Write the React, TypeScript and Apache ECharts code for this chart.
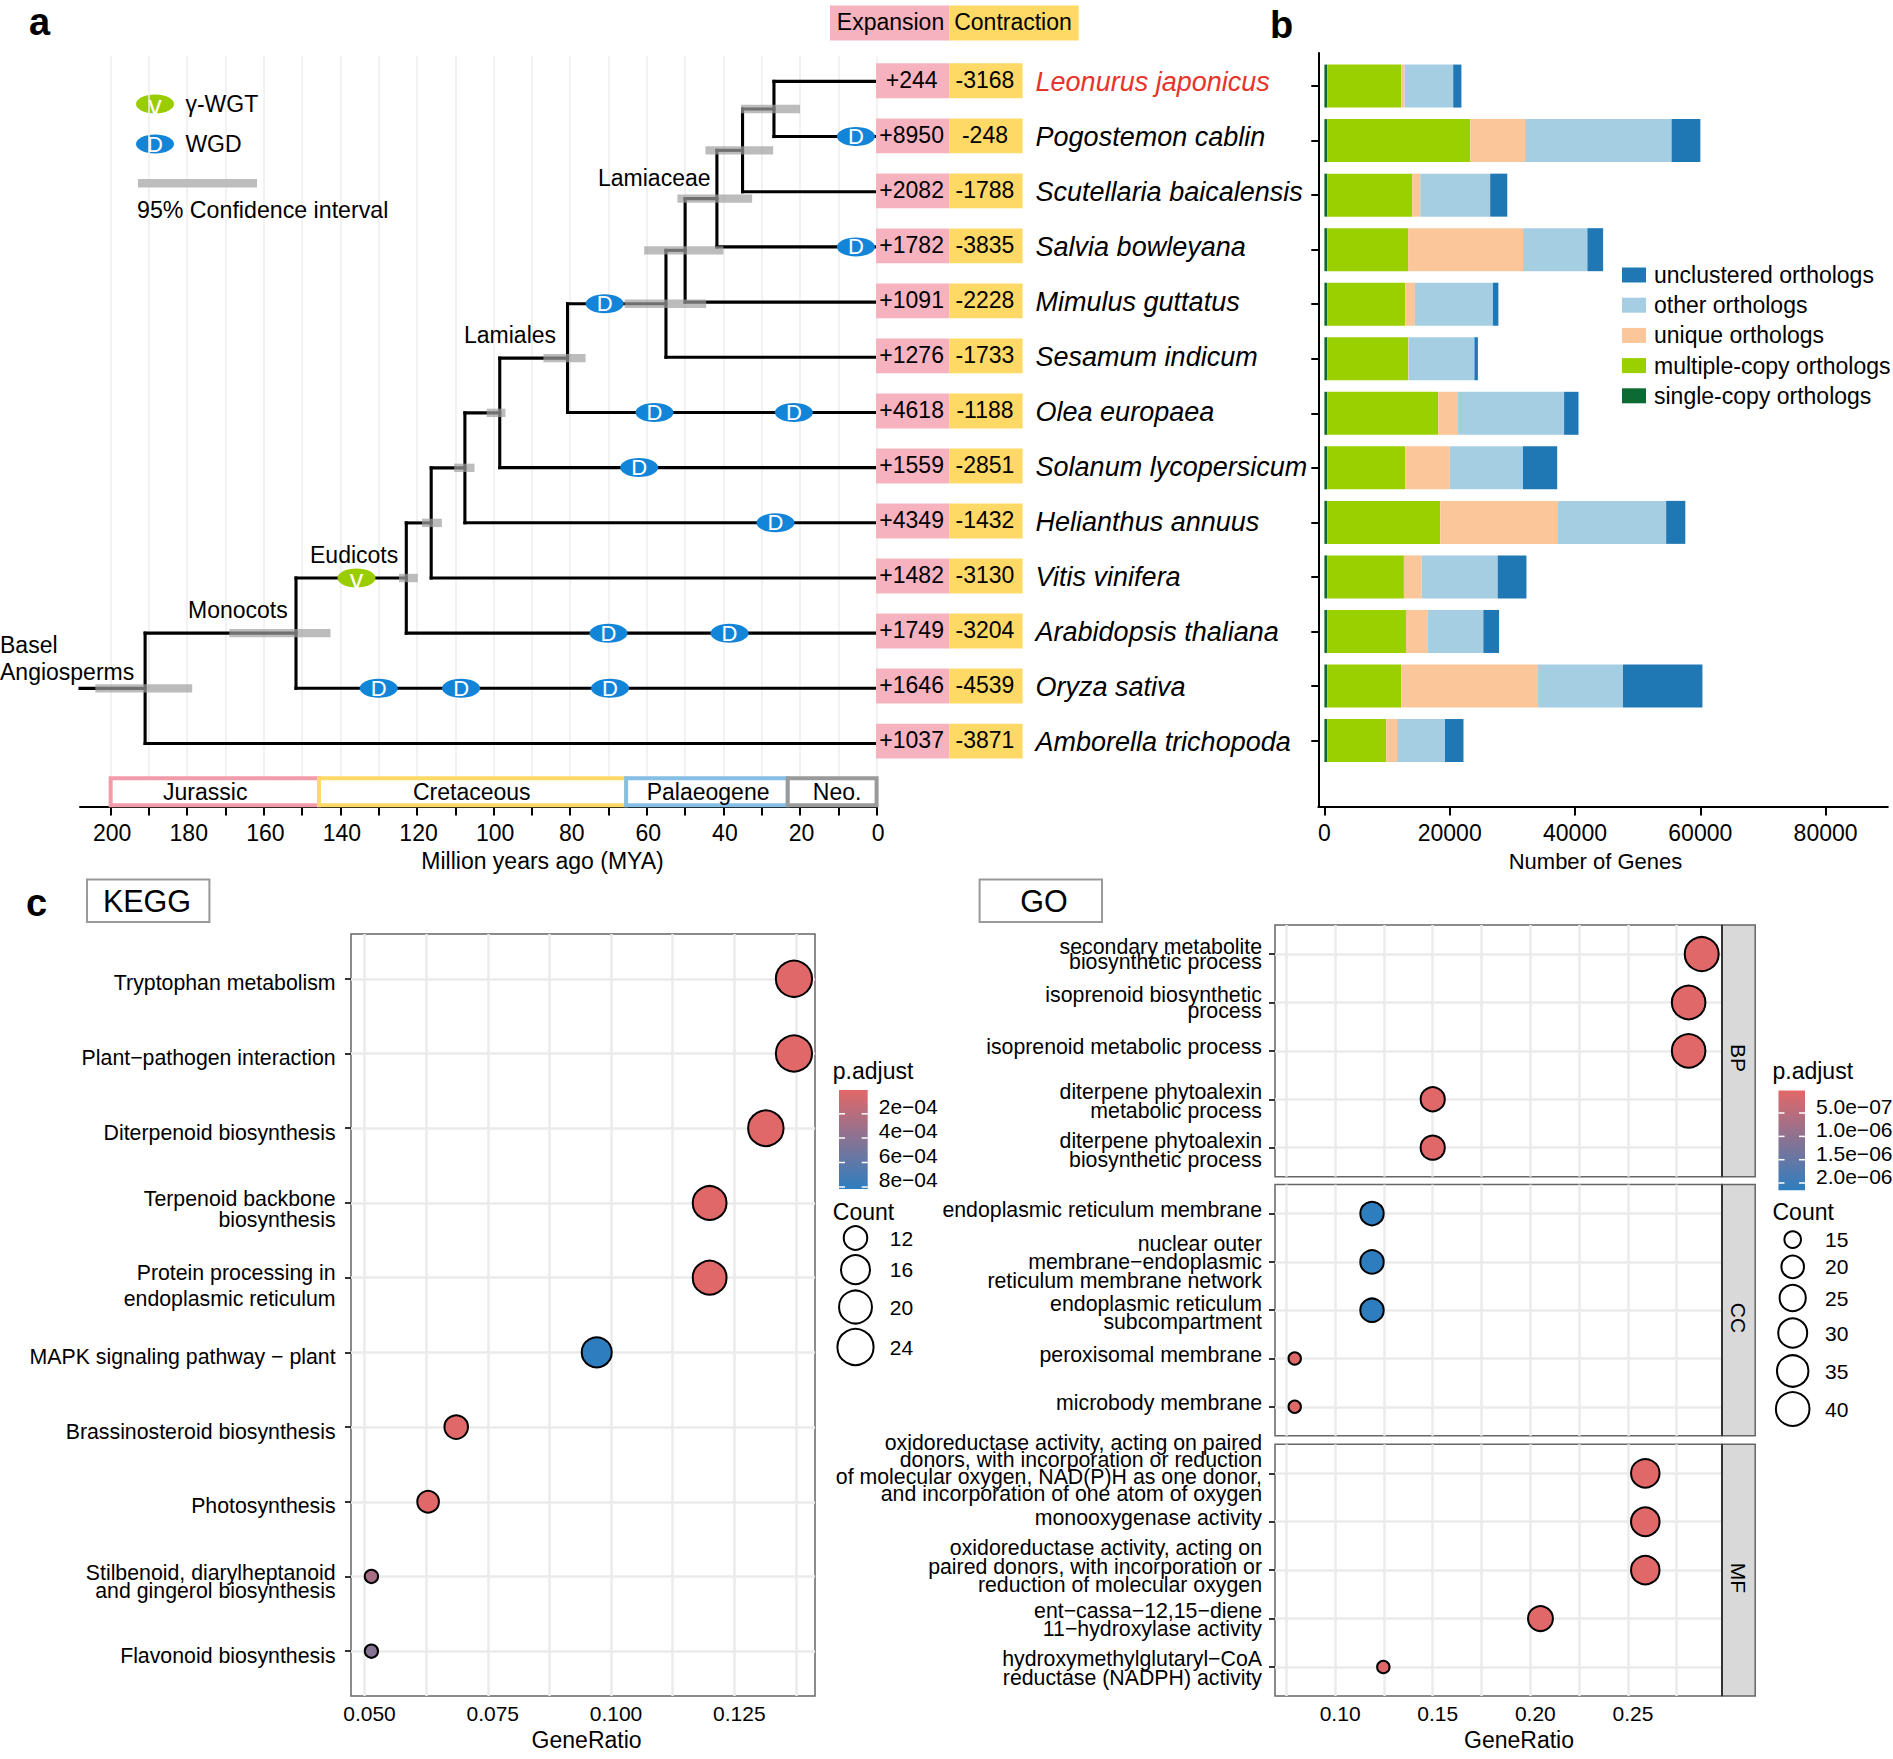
import React, { useEffect, useRef } from "react";
import * as echarts from "echarts";

const FONT = "'Liberation Sans', Arial, Helvetica, sans-serif";

// ---------- panel a: tree ----------
const species = ["Leonurus japonicus", "Pogostemon cablin", "Scutellaria baicalensis", "Salvia bowleyana", "Mimulus guttatus", "Sesamum indicum", "Olea europaea", "Solanum lycopersicum", "Helianthus annuus", "Vitis vinifera", "Arabidopsis thaliana", "Oryza sativa", "Amborella trichopoda"];
const expansion = [244, 8950, 2082, 1782, 1091, 1276, 4618, 1559, 4349, 1482, 1749, 1646, 1037];
const contraction = [3168, 248, 1788, 3835, 2228, 1733, 1188, 2851, 1432, 3130, 3204, 4539, 3871];
const nodeAges = [26.8, 35, 41.7, 50, 55, 80.7, 98.4, 107.5, 116.3, 122.8, 151.6, 191];
const rootAge = 208;
const ciFrom = [35.4, 44.7, 52, 60.7, 65.8, 87, 101.8, 110.3, 118.7, 124.7, 169, 204];
const ciTo = [20, 27, 32.5, 40, 44.5, 76, 96.9, 105, 113.5, 119.8, 142.6, 178.7];
const wgdAges = [5.4, 5.4, 71, 58, 21.6, 62, 26.4, 70, 38.4, 130, 108.5, 69.6];
const wgdRows = [1, 3, 4.03, 6, 6, 7, 8, 10, 10, 11, 11, 11];
const gammaAges = [135.8];
const gammaRows = [9];
const geoNames = ["Jurassic", "Cretaceous", "Palaeogene", "Neo."];
const geoFrom = [200, 145.6, 65.4, 23.2];
const geoTo = [145.6, 65.4, 23.2, 0];
const geoLabelAge = [175.3, 105.7, 44, 10.3];
const geoColors = ["#F29BAA", "#FFD966", "#85BFE5", "#9A9A9A"];
const ageTicks = [200, 190, 180, 170, 160, 150, 140, 130, 120, 110, 100, 90, 80, 70, 60, 50, 40, 30, 20, 10, 0];
const ageLabels = [200, 180, 160, 140, 120, 100, 80, 60, 40, 20, 0];

// ---------- panel b: stacked bars ----------
const singleCopy = [450, 450, 450, 450, 450, 450, 450, 450, 450, 450, 450, 450, 450];
const multiCopy = [11800, 22840, 13550, 12900, 12460, 12900, 17700, 12460, 18030, 12240, 12570, 11800, 9400];
const uniqueO = [550, 8740, 1310, 18360, 1530, 110, 3170, 7100, 18800, 2840, 3500, 21860, 1750];
const otherO = [7760, 23390, 11150, 10270, 12460, 10490, 16940, 11690, 17270, 12130, 8850, 13550, 7650];
const unclustered = [1310, 4590, 2730, 2510, 870, 550, 2300, 5460, 3060, 4590, 2510, 12680, 2950];
const geneTicks = [0, 20000, 40000, 60000, 80000];

// ---------- panel c: KEGG ----------
const keggLabels = ["Tryptophan metabolism", "Plant\u2212pathogen interaction", "Diterpenoid biosynthesis", "Terpenoid backbone\nbiosynthesis", "Protein processing in\nendoplasmic reticulum", "MAPK signaling pathway \u2212 plant", "Brassinosteroid biosynthesis", "Photosynthesis", "Stilbenoid, diarylheptanoid\nand gingerol biosynthesis", "Flavonoid biosynthesis"];
const keggRatio = [0.1371, 0.1371, 0.1314, 0.12, 0.12, 0.0971, 0.0686, 0.0629, 0.0514, 0.0514];
const keggCount = [24, 24, 23, 21, 21, 17, 12, 11, 9, 9];
const keggP = [0.000005, 0.000005, 0.00001, 0.00001, 0.00001, 0.00081, 0.00001, 0.00001, 0.00026, 0.00041];
const keggLineH = [21, 21, 21, 21.5, 25.5, 21, 21, 21, 18, 21];
const keggDy = [4.5, 4.5, 4.5, 6.5, 8.5, 4.5, 4.5, 4.5, 5.5, 4.5];
const keggMajor = [0.05, 0.075, 0.1, 0.125];
const keggAllX = [0.05, 0.0625, 0.075, 0.0875, 0.1, 0.1125, 0.125, 0.1375];
const keggLegendCounts = [12, 16, 20, 24];
const keggPLabels = ["2e\u221204", "4e\u221204", "6e\u221204", "8e\u221204"];

// ---------- panel c: GO ----------
const bpLabels = ["secondary metabolite\nbiosynthetic process", "isoprenoid biosynthetic\nprocess", "isoprenoid metabolic process", "diterpene phytoalexin\nmetabolic process", "diterpene phytoalexin\nbiosynthetic process"];
const bpRatio = [0.2878, 0.2811, 0.2811, 0.15, 0.15];
const bpCount = [41, 40, 40, 22, 22];
const bpP = [1e-8, 1e-8, 1e-8, 1e-8, 1e-8];
const bpLineH = [15.3, 15.3, 21, 18.7, 18.7];
const bpDy = [0.5, 0.5, -3.5, 2.5, 2.5];
const ccLabels = ["endoplasmic reticulum membrane", "nuclear outer\nmembrane\u2212endoplasmic\nreticulum membrane network", "endoplasmic reticulum\nsubcompartment", "peroxisomal membrane", "microbody membrane"];
const ccRatio = [0.1189, 0.1189, 0.1189, 0.0793, 0.0793];
const ccCount = [21, 21, 21, 14, 14];
const ccP = [2.2e-6, 2.2e-6, 2.2e-6, 1e-8, 1e-8];
const ccLineH = [21, 18.5, 18, 21, 21];
const ccDy = [-3.5, 0.5, 2.5, -3.5, -3.5];
const mfLabels = ["oxidoreductase activity, acting on paired\ndonors, with incorporation or reduction\nof molecular oxygen, NAD(P)H as one donor,\nand incorporation of one atom of oxygen", "monooxygenase activity", "oxidoreductase activity, acting on\npaired donors, with incorporation or\nreduction of molecular oxygen", "ent\u2212cassa\u221212,15\u2212diene\n11\u2212hydroxylase activity", "hydroxymethylglutaryl\u2212CoA\nreductase (NADPH) activity"];
const mfRatio = [0.2589, 0.2589, 0.2589, 0.2052, 0.1247];
const mfCount = [29, 29, 29, 23, 14];
const mfP = [1e-8, 1e-8, 1e-8, 1e-8, 1e-8];
const mfLineH = [16.8, 21, 18.7, 18.7, 18.7];
const mfDy = [-5, -3.5, -3.5, 1.5, 1.5];
const goMajor = [0.1, 0.15, 0.2, 0.25];
const goAllX = [0.075, 0.1, 0.125, 0.15, 0.175, 0.2, 0.225, 0.25, 0.275];
const goLegendCounts = [15, 20, 25, 30, 35, 40];
const goPLabels = ["5.0e\u221207", "1.0e\u221206", "1.5e\u221206", "2.0e\u221206"];
const facetNames = ["BP", "CC", "MF"];

const RED = "#E26868";
const BLUE = "#2E7EBF";
const WGD_BLUE = "#1285D8";
const GAMMA_GREEN = "#9ACD00";
const PINK = "#F6B3BF";
const GOLD = "#FFD966";
const GRID_GREY = "#EBEBEB";
const BORDER_GREY = "#666666";
const DOT_FONT = 21.3;

const keggSize = (c: number) => 4.59 * (3 + 5 * Math.sqrt((c - 9) / 15)) - 0.5;
const goSize = (c: number) => 4.31 * (3 + 5 * Math.sqrt((c - 14) / 27)) - 0.5;

function txt(text: string, x: number, y: number, fontSize: number, extra: any = {}) {
  const { rotation, ...st } = extra;
  return {
    type: "text", x, y, rotation: rotation || 0, z: 20, silent: true,
    style: { text, fill: "#000", fontSize, fontFamily: FONT, align: "left", verticalAlign: "middle", ...st },
  };
}
function box(x: number, y: number, w: number, h: number, fill: string, stroke?: string, lineWidth = 0, z = 10) {
  return { type: "rect", z, silent: true, shape: { x, y, width: w, height: h }, style: { fill, stroke: stroke || undefined, lineWidth } };
}
function seg(x1: number, y1: number, x2: number, y2: number, stroke: string, lineWidth: number, z = 15) {
  return { type: "line", z, silent: true, shape: { x1, y1, x2, y2 }, style: { stroke, lineWidth } };
}
function custom(grid: number, data: any[], renderItem: any) {
  return { type: "custom", coordinateSystem: "cartesian2d", xAxisIndex: grid, yAxisIndex: grid, data, renderItem, silent: true, clip: false };
}
function markerChildren(glyph: string, fill: string) {
  const isGamma = glyph !== "D";
  return [
    { type: "ellipse", shape: { cx: 0, cy: 0, rx: 19, ry: 9.5 }, style: { fill } },
    { type: "text", x: 0, y: isGamma ? 2 : 0, style: { text: glyph, fill: "#fff", fontSize: isGamma ? 27 : 22, fontFamily: FONT, align: "center", verticalAlign: "middle" } },
  ];
}
function marker(x: number, y: number, glyph: string, fill: string) {
  return { type: "group", x, y, children: markerChildren(glyph, fill) };
}

function buildTree() {
  const branches: number[][] = [];
  const nodeRows: number[] = [];
  nodeAges.forEach((age, i) => {
    const childARow = i === 0 ? 0 : nodeRows[i - 1];
    const childAAge = i === 0 ? 0 : nodeAges[i - 1];
    const leafRow = i + 1;
    const row = (childARow + leafRow) / 2;
    nodeRows.push(row);
    branches.push([age, childARow, age, leafRow]);
    branches.push([age, childARow, childAAge, childARow]);
    branches.push([age, leafRow, 0, leafRow]);
  });
  const last = nodeRows.length - 1;
  branches.push([rootAge, nodeRows[last], nodeAges[last], nodeRows[last]]);
  return { branches, nodeRows };
}

function textSeries(grid: number, anchor: number, labels: string[], lineH: number[], dy: number[], gap: number) {
  return custom(grid, labels.map((_, i) => [anchor, i]), (p: any, api: any) => {
    const c = api.coord([api.value(0), api.value(1)]);
    return {
      type: "text", x: c[0] - gap, y: c[1] + dy[p.dataIndex],
      style: { text: labels[p.dataIndex], fill: "#000", fontSize: DOT_FONT, fontFamily: FONT, lineHeight: lineH[p.dataIndex], align: "right", verticalAlign: "middle" },
    };
  });
}

function dotAxisY(max: number, rows: number[]) {
  return {
    type: "value", inverse: true, min: -0.6, max: max + 0.6,
    axisLine: { show: false, onZero: false },
    axisTick: { show: true, customValues: rows, length: 6, lineStyle: { color: "#333", width: 2 } },
    axisLabel: { show: false },
    splitLine: { show: true, lineStyle: { color: GRID_GREY, width: 2.5 } },
  };
}
function dotAxisX(min: number, max: number, all: number[], major: number[] | null, fmt: any) {
  return {
    type: "value", min, max,
    axisLine: { show: false, onZero: false },
    axisTick: { show: false, customValues: all },
    axisLabel: major
      ? { show: true, customValues: major, formatter: fmt, fontSize: 21, color: "#000", margin: 6.5, fontFamily: FONT, padding: [0, 0, 0, 10] }
      : { show: false },
    splitLine: { show: true, lineStyle: { color: GRID_GREY, width: 2.5 } },
  };
}

function buildOption() {
  const { branches, nodeRows } = buildTree();
  const series: any[] = [];

  // tree lines
  series.push(custom(0, branches, (_: any, api: any) => {
    const a = api.coord([api.value(0), api.value(1)]);
    const b = api.coord([api.value(2), api.value(3)]);
    return { type: "line", shape: { x1: a[0], y1: a[1], x2: b[0], y2: b[1] }, style: { stroke: "#000", lineWidth: 3.1, lineCap: "square" } };
  }));
  // CI bars
  series.push(custom(0, nodeRows.map((r, i) => [ciFrom[i], r, ciTo[i]]), (_: any, api: any) => {
    const a = api.coord([api.value(0), api.value(1)]);
    const b = api.coord([api.value(2), api.value(1)]);
    return { type: "rect", shape: { x: a[0], y: a[1] - 4.2, width: b[0] - a[0], height: 8.4 }, style: { fill: "rgba(160,160,160,0.7)" } };
  }));
  // events
  series.push(custom(0, wgdAges.map((a, i) => [a, wgdRows[i]]), (_: any, api: any) => {
    const c = api.coord([api.value(0), api.value(1)]);
    return marker(c[0], c[1], "D", WGD_BLUE);
  }));
  series.push(custom(0, gammaAges.map((a, i) => [a, gammaRows[i]]), (_: any, api: any) => {
    const c = api.coord([api.value(0), api.value(1)]);
    return marker(c[0], c[1], "\u03B3", GAMMA_GREEN);
  }));
  // geological time
  series.push(custom(0, geoNames.map((_, i) => [geoFrom[i], geoTo[i], geoLabelAge[i]]), (p: any, api: any) => {
    const a = api.coord([api.value(0), 12.63]);
    const b = api.coord([api.value(1), 13.12]);
    const t = api.coord([api.value(2), 12.875]);
    return {
      type: "group",
      children: [
        { type: "rect", shape: { x: a[0], y: a[1], width: b[0] - a[0], height: b[1] - a[1] }, style: { fill: "#fff", stroke: geoColors[p.dataIndex], lineWidth: 4 } },
        { type: "text", x: t[0], y: t[1], style: { text: geoNames[p.dataIndex], fill: "#000", fontSize: 23, fontFamily: FONT, align: "center", verticalAlign: "middle" } },
      ],
    };
  }));

  // table cells
  const cell = (col: number, fill: string, values: number[], sign: string) =>
    custom(1, values.map((_, i) => [col, i]), (p: any, api: any) => {
      const a = api.coord([api.value(0), api.value(1) - 0.317]);
      const b = api.coord([api.value(0) + 1, api.value(1) + 0.317]);
      return {
        type: "group",
        children: [
          { type: "rect", shape: { x: a[0], y: a[1], width: b[0] - a[0], height: b[1] - a[1] }, style: { fill } },
          { type: "text", x: (a[0] + b[0]) / 2 - 1, y: (a[1] + b[1]) / 2 - 1, style: { text: sign + values[p.dataIndex], fill: "#000", fontSize: 23, fontFamily: FONT, align: "center", verticalAlign: "middle" } },
        ],
      };
    });
  series.push(cell(0, PINK, expansion, "+"));
  series.push(cell(1, GOLD, contraction, "-"));
  series.push(custom(1, species.map((_, i) => [2.177, i]), (p: any, api: any) => {
    const c = api.coord([api.value(0), api.value(1)]);
    return {
      type: "text", x: c[0], y: c[1] + 1,
      style: { text: species[p.dataIndex], fill: p.dataIndex === 0 ? "#E5352B" : "#000", fontSize: 27, fontStyle: "italic", fontFamily: FONT, align: "left", verticalAlign: "middle" },
    };
  }));

  // bars (grid 3)
  const barDefs: [string, number[], string][] = [
    ["single-copy orthologs", singleCopy, "#0B6B33"],
    ["multiple-copy orthologs", multiCopy, "#9AD000"],
    ["unique orthologs", uniqueO, "#FBC79A"],
    ["other orthologs", otherO, "#A6CEE3"],
    ["unclustered orthologs", unclustered, "#1F78B4"],
  ];
  barDefs.forEach(([name, data, color]) => {
    series.push({ type: "bar", name, data, stack: "genes", xAxisIndex: 3, yAxisIndex: 3, barWidth: 43, itemStyle: { color } });
  });

  // dots
  const dot = (grid: number, ratio: number[], count: number[], p: number[], size: (c: number) => number) => ({
    type: "scatter", xAxisIndex: grid, yAxisIndex: grid, clip: false,
    data: ratio.map((r, i) => [r, i, count[i], p[i]]),
    symbolSize: (d: number[]) => size(d[2]),
    itemStyle: { borderColor: "#000", borderWidth: 2, opacity: 1 },
  });
  const visualMap: any[] = [];
  const addDots = (grid: number, ratio: number[], count: number[], p: number[], size: (c: number) => number, maxP: number) => {
    visualMap.push({ show: false, type: "continuous", seriesIndex: series.length, dimension: 3, min: 0, max: maxP, inRange: { color: [RED, BLUE] } });
    series.push(dot(grid, ratio, count, p, size));
  };
  addDots(4, keggRatio, keggCount, keggP, keggSize, 0.00081);
  addDots(5, bpRatio, bpCount, bpP, goSize, 2.2e-6);
  addDots(6, ccRatio, ccCount, ccP, goSize, 2.2e-6);
  addDots(7, mfRatio, mfCount, mfP, goSize, 2.2e-6);
  series.push(textSeries(4, 0.04726, keggLabels, keggLineH, keggDy, 15.4));
  series.push(textSeries(5, 0.0692, bpLabels, bpLineH, bpDy, 13));
  series.push(textSeries(6, 0.0692, ccLabels, ccLineH, ccDy, 13));
  series.push(textSeries(7, 0.0692, mfLabels, mfLineH, mfDy, 13));

  const frameGrid = { show: true, borderColor: BORDER_GREY, borderWidth: 1.5, backgroundColor: "#fff" };
  const grid = [
    { left: 80, width: 796.6, top: 56, height: 750.4 },
    { left: 876, width: 439.8, top: 55.5, height: 748.3 },
    { left: 1318.3, width: 569.5, top: 53, height: 753.4 },
    { left: 1318.3, width: 569.5, top: 58.8, height: 709 },
    { left: 351, width: 464, top: 934, height: 762, ...frameGrid },
    { left: 1275, width: 447, top: 925, height: 251.7, ...frameGrid },
    { left: 1275, width: 447, top: 1184.6, height: 251.2, ...frameGrid },
    { left: 1275, width: 447, top: 1444.3, height: 251.7, ...frameGrid },
  ];
  const hiddenX = (min: number, max: number) => ({ type: "value", min, max, show: false });
  const hiddenY = (min: number, max: number) => ({ type: "value", min, max, inverse: true, show: false });
  const blackAxis = { onZero: false, lineStyle: { color: "#000", width: 2 } };

  const xAxis = [
    {
      type: "value", inverse: true, min: 0, max: rootAge,
      axisLine: blackAxis,
      axisTick: { customValues: ageTicks, length: 9, lineStyle: { color: "#000", width: 2 } },
      axisLabel: { customValues: ageLabels, fontSize: 23, color: "#000", margin: 15, fontFamily: FONT, padding: [0, 0, 0, 3] },
      splitLine: { show: true, lineStyle: { color: "#EEEEEE", width: 1.5 } },
    },
    hiddenX(0, 6),
    {
      type: "value", min: -974, max: 89930,
      axisLine: blackAxis,
      axisTick: { customValues: geneTicks, length: 9, lineStyle: { color: "#000", width: 2 } },
      axisLabel: { customValues: geneTicks, formatter: (v: number) => String(v), fontSize: 23, color: "#000", margin: 15, fontFamily: FONT },
      splitLine: { show: false },
    },
    hiddenX(-974, 89930),
    dotAxisX(0.04726, 0.14137, keggAllX, keggMajor, (v: number) => v.toFixed(3)),
    dotAxisX(0.0692, 0.2982, goAllX, null, null),
    dotAxisX(0.0692, 0.2982, goAllX, null, null),
    dotAxisX(0.0692, 0.2982, goAllX, goMajor, (v: number) => v.toFixed(2)),
  ];
  const yAxis = [
    hiddenY(-0.46, 13.14),
    hiddenY(-0.46, 13.14),
    {
      type: "value", min: 0, max: 1,
      axisLine: blackAxis,
      axisTick: { show: false }, axisLabel: { show: false }, splitLine: { show: false },
    },
    {
      type: "category", inverse: true, data: species,
      axisLine: { show: false, onZero: false },
      axisTick: { show: true, alignWithLabel: true, length: 7, lineStyle: { color: "#000", width: 2 } },
      axisLabel: { show: false },
    },
    dotAxisY(9, keggLabels.map((_, i) => i)),
    dotAxisY(4, bpLabels.map((_, i) => i)),
    dotAxisY(4, ccLabels.map((_, i) => i)),
    dotAxisY(4, mfLabels.map((_, i) => i)),
  ];

  // static furniture
  const g: any[] = [];
  g.push(txt("a", 29, 22, 38, { fontWeight: "bold" }));
  g.push(txt("b", 1270, 25, 38, { fontWeight: "bold" }));
  g.push(txt("c", 26, 903, 38, { fontWeight: "bold" }));
  // headers
  g.push(box(830, 5.6, 119.3, 34.8, PINK));
  g.push(box(949.3, 5.6, 129.4, 34.8, GOLD));
  g.push(txt("Expansion", 890.5, 22, 23, { align: "center" }));
  g.push(txt("Contraction", 1013, 22, 23, { align: "center" }));
  // tree legend
  const legendMark = (x: number, y: number, glyph: string, fill: string) => ({
    type: "group", x, y, z: 20, silent: true, children: markerChildren(glyph, fill),
  });
  g.push(legendMark(155, 104, "\u03B3", GAMMA_GREEN));
  g.push(legendMark(155, 144, "D", WGD_BLUE));
  g.push(txt("\u03B3-WGT", 185.4, 104, 23));
  g.push(txt("WGD", 185.4, 144, 23));
  g.push(box(138, 179, 119, 8.5, "#BDBDBD"));
  g.push(txt("95% Confidence interval", 137, 210, 23.2));
  // clade labels
  g.push(txt("Basel", 0, 645, 23));
  g.push(txt("Angiosperms", 0, 672, 23));
  g.push(txt("Monocots", 188, 610, 23));
  g.push(txt("Eudicots", 310, 554.5, 23));
  g.push(txt("Lamiales", 464, 335, 23));
  g.push(txt("Lamiaceae", 598, 178, 23));
  // axis titles
  g.push(txt("Million years ago (MYA)", 542.5, 861, 23, { align: "center" }));
  g.push(txt("Number of Genes", 1595.5, 861, 22, { align: "center" }));
  g.push(txt("GeneRatio", 586.6, 1740, 23, { align: "center" }));
  g.push(txt("GeneRatio", 1519, 1740, 23, { align: "center" }));
  // title boxes
  g.push(box(87, 879.6, 122.4, 42.4, "#fff", "#999", 2));
  g.push(txt("KEGG", 147, 900.6, 30.5, { align: "center" }));
  g.push(box(979.6, 879.6, 122.4, 42.4, "#fff", "#999", 2));
  g.push(txt("GO", 1044, 900.6, 30.5, { align: "center" }));
  // facet strips
  const stripY = [[925, 251.7, 1058], [1184.6, 251.2, 1318], [1444.3, 251.7, 1578]];
  stripY.forEach((s, i) => {
    g.push(box(1722, s[0], 33.2, s[1], "#D9D9D9", BORDER_GREY, 1.5));
    g.push(seg(1722, s[0], 1722, s[0] + s[1], "#333", 2));
    g.push(txt(facetNames[i], 1738.6, s[2], 21, { rotation: -Math.PI / 2, align: "center" }));
  });
  // colour bars
  const colorbar = (x: number, w: number, y: number, h: number, tickY: number[], labels: string[], labelY: number[], lx: number, tx: number) => {
    g.push({
      type: "rect", z: 10, silent: true, shape: { x, y, width: w, height: h },
      style: { fill: new echarts.graphic.LinearGradient(0, 0, 0, 1, [{ offset: 0, color: RED }, { offset: 1, color: BLUE }]) },
    });
    tickY.forEach((t) => {
      g.push(seg(x, t, x + 6, t, "#fff", 1.5));
      g.push(seg(x + w - 6, t, x + w, t, "#fff", 1.5));
    });
    g.push(txt("p.adjust", tx, 1071, 23));
    labels.forEach((l, i) => g.push(txt(l, lx, labelY[i], 21)));
    g.push(txt("Count", tx, 1212, 23));
  };
  colorbar(839, 28.7, 1090, 99, [1113.8, 1138, 1162.5, 1187], keggPLabels, [1106.5, 1130.5, 1155, 1179.5], 878.7, 832.8);
  colorbar(1778.5, 26.5, 1090.5, 99.8, [1113, 1136.4, 1159.7, 1183], goPLabels, [1106.5, 1129.5, 1153, 1176.5], 1816, 1772.5);
  const countLegend = (counts: number[], ys: number[], cx: number, lx: number, size: (c: number) => number) => {
    counts.forEach((c, i) => {
      g.push({ type: "circle", z: 15, silent: true, shape: { cx, cy: ys[i], r: size(c) / 2 }, style: { fill: "#fff", stroke: "#000", lineWidth: 2 } });
      g.push(txt(String(c), lx, ys[i], 21));
    });
  };
  countLegend(keggLegendCounts, [1238, 1269.7, 1307, 1347], 855.5, 889.8, keggSize);
  countLegend(goLegendCounts, [1239.6, 1266.8, 1298, 1333, 1371, 1409], 1792.7, 1825, goSize);

  return {
    animation: false,
    backgroundColor: "#fff",
    textStyle: { fontFamily: FONT },
    tooltip: { show: false },
    legend: {
      orient: "vertical", left: 1622, top: 263.5, padding: 0, icon: "rect", itemWidth: 24, itemHeight: 15, itemGap: 7.2, selectedMode: false,
      textStyle: { fontSize: 23, color: "#000", fontFamily: FONT, padding: [0, 0, 0, 3] },
      data: ["unclustered orthologs", "other orthologs", "unique orthologs", "multiple-copy orthologs", "single-copy orthologs"],
    },
    visualMap,
    grid,
    xAxis: xAxis.map((a, i) => ({ ...a, gridIndex: i })),
    yAxis: yAxis.map((a, i) => ({ ...a, gridIndex: i })),
    series,
    graphic: g,
  };
}

export default function App() {
  const ref = useRef<HTMLDivElement>(null);
  useEffect(() => {
    document.body.style.margin = "0";
    document.body.style.background = "#fff";
    const chart = echarts.init(ref.current!, undefined, { renderer: "svg" });
    chart.setOption(buildOption() as any);
    return () => chart.dispose();
  }, []);
  return <div ref={ref} style={{ position: "absolute", left: 0, top: 0, width: 1893, height: 1759 }} />;
}
